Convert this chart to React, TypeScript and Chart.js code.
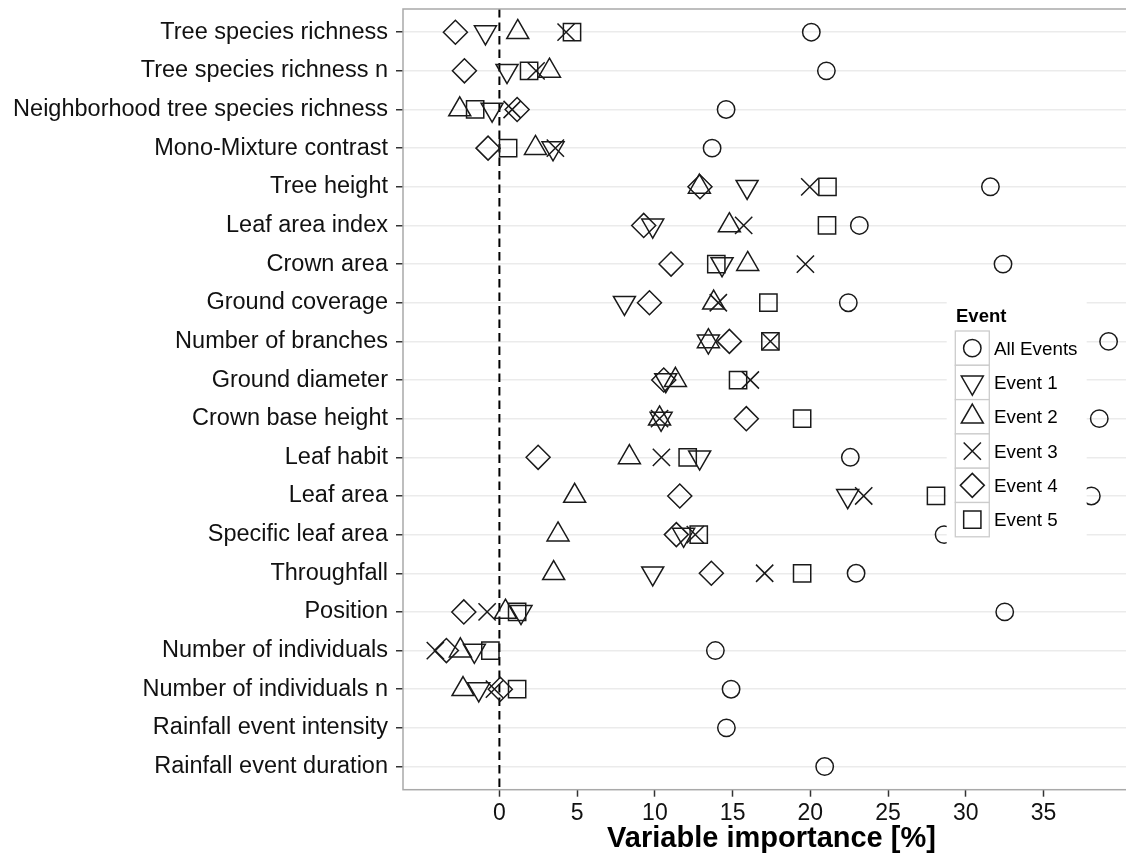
import React, { useEffect, useRef } from 'react';
import { Chart, registerables } from 'chart.js';
import { drawPoint } from 'chart.js/helpers';

Chart.register(...registerables);

// Predictor variables, listed top to bottom
const variables = [
  'Tree species richness',
  'Tree species richness n',
  'Neighborhood tree species richness',
  'Mono-Mixture contrast',
  'Tree height',
  'Leaf area index',
  'Crown area',
  'Ground coverage',
  'Number of branches',
  'Ground diameter',
  'Crown base height',
  'Leaf habit',
  'Leaf area',
  'Specific leaf area',
  'Throughfall',
  'Position',
  'Number of individuals',
  'Number of individuals n',
  'Rainfall event intensity',
  'Rainfall event duration',
];

// Variable importance [%] per event, same order as `variables`
const allEvents = [20.06, 21.03, 14.58, 13.68, 31.58, 23.15, 32.39, 22.44, 39.18, 33.0, 38.58, 22.57, 38.07, 28.6, 22.94, 32.5, 13.89, 14.9, 14.6, 20.92];
const event1 = [-0.9, 0.49, -0.47, 3.45, 15.93, 9.86, 14.32, 8.04, 13.44, 10.7, 10.4, 12.88, 22.4, 11.85, 9.86, 1.39, -1.61, -1.33, null, null];
const event2 = [1.18, 3.22, -2.55, 2.32, 12.86, 14.79, 15.97, 13.78, 13.44, 11.32, 10.3, 8.36, 4.84, 3.77, 3.49, 0.39, -2.51, -2.34, null, null];
const event3 = [4.29, 2.36, 0.82, 3.6, 19.96, 15.71, 19.68, 14.08, 17.43, 16.14, 10.3, 10.42, 23.43, 12.6, 17.06, -0.79, -4.12, -0.32, null, null];
const event4 = [-2.83, -2.25, 1.14, -0.73, 12.9, 9.28, 11.04, 9.65, 14.79, 10.57, 15.88, 2.49, 11.6, 11.38, 13.63, -2.29, -3.41, 0.06, null, null];
const event5 = [4.67, 1.91, -1.56, 0.56, 21.1, 21.07, 13.95, 17.3, 17.43, 15.35, 19.47, 12.11, 28.08, 12.82, 19.47, 1.14, -0.58, 1.14, null, null];

const xTicks = [0, 5, 10, 15, 20, 25, 30, 35];
const referenceValue = 0;

const FONT = '"Liberation Sans", Arial, Helvetica, sans-serif';
const INK = '#1a1a1a';

type Series = {
  label: string;
  values: (number | null)[];
  pointStyle: string;
  rotation: number;
  radius: number;
};

const series: Series[] = [
  { label: 'All Events', values: allEvents, pointStyle: 'circle', rotation: 0, radius: 8.7 },
  { label: 'Event 1', values: event1, pointStyle: 'triangle', rotation: 180, radius: 12.7 },
  { label: 'Event 2', values: event2, pointStyle: 'triangle', rotation: 0, radius: 12.7 },
  { label: 'Event 3', values: event3, pointStyle: 'crossRot', rotation: 0, radius: 12.2 },
  { label: 'Event 4', values: event4, pointStyle: 'rectRot', rotation: 0, radius: 12 },
  { label: 'Event 5', values: event5, pointStyle: 'rect', rotation: 0, radius: 12.2 },
];

// Panel border plus an inset legend in the ggplot style
const panelAndLegend = {
  id: 'panelAndLegend',
  afterDatasetsDraw(chart: any) {
    const { ctx, chartArea } = chart;
    ctx.save();
    ctx.strokeStyle = '#a9a9a9';
    ctx.lineWidth = 1.5;
    ctx.strokeRect(chartArea.left, chartArea.top, chartArea.right - chartArea.left, chartArea.bottom - chartArea.top);
    ctx.restore();
  },
  afterDraw(chart: any) {
    const { ctx } = chart;
    const boxLeft = 938.7;
    const boxTop = 289;
    const boxRight = 1078.7;
    const boxBottom = 538;
    const keyLeft = 947.3;
    const keyTop = 323;
    const keyW = 34;
    const keyH = 34.3;
    ctx.save();
    ctx.fillStyle = '#ffffff';
    ctx.fillRect(boxLeft, boxTop, boxRight - boxLeft, boxBottom - boxTop);

    ctx.fillStyle = '#000000';
    ctx.font = `bold 18.5px ${FONT}`;
    ctx.textAlign = 'left';
    ctx.textBaseline = 'alphabetic';
    ctx.fillText('Event', 948, 314.3);

    series.forEach((s, i) => {
      const top = keyTop + i * keyH;
      ctx.strokeStyle = '#cccccc';
      ctx.lineWidth = 1.3;
      ctx.fillStyle = '#ffffff';
      ctx.fillRect(keyLeft, top, keyW, keyH);
      ctx.strokeRect(keyLeft, top, keyW, keyH);

      const cx = keyLeft + keyW / 2;
      const cy = top + keyH / 2;
      ctx.strokeStyle = INK;
      ctx.fillStyle = 'rgba(0,0,0,0)';
      ctx.lineWidth = 1.5;
      drawPoint(ctx, { pointStyle: s.pointStyle, rotation: s.rotation, radius: s.radius, borderWidth: 1.5 } as any, cx, cy);

      ctx.fillStyle = '#000000';
      ctx.font = `18.8px ${FONT}`;
      ctx.fillText(s.label, 986, cy + 6.7);
    });
    ctx.restore();
  },
};

export default function App() {
  const canvasRef = useRef<HTMLCanvasElement | null>(null);

  useEffect(() => {
    const canvas = canvasRef.current;
    if (!canvas) return;

    const pointSets = series.map((s) => ({
      label: s.label,
      data: s.values
        .map((v, i) => (v === null ? null : { x: v, y: i }))
        .filter((p) => p !== null),
      pointStyle: s.pointStyle,
      pointRotation: s.rotation,
      pointRadius: s.radius,
      pointBorderWidth: 1.5,
      pointBorderColor: INK,
      pointBackgroundColor: 'rgba(0,0,0,0)',
      showLine: false,
      order: 1,
    }));

    const zeroLine = {
      label: 'zero',
      data: [
        { x: referenceValue, y: -0.6 },
        { x: referenceValue, y: variables.length - 0.4 },
      ],
      showLine: true,
      borderColor: '#000000',
      borderWidth: 2,
      borderDash: [8.5, 5],
      pointRadius: 0,
      order: 5,
    };

    const chart = new Chart(canvas, {
      type: 'scatter',
      data: { datasets: [zeroLine as any, ...(pointSets as any)] },
      options: {
        animation: false,
        responsive: false,
        devicePixelRatio: 1,
        events: [],
        layout: { autoPadding: false, padding: { left: 0, top: 1, right: 18, bottom: 0 } },
        plugins: {
          legend: { display: false },
          tooltip: { enabled: false },
        },
        scales: {
          x: {
            type: 'linear',
            min: -6.2,
            max: 41.2,
            afterBuildTicks: (scale: any) => {
              scale.ticks = xTicks.map((v) => ({ value: v }));
            },
            afterFit: (scale: any) => {
              scale.height = 66.3;
              scale.paddingLeft = 0;
              scale.paddingRight = 0;
            },
            ticks: {
              autoSkip: false,
              padding: 3,
              color: '#111111',
              font: { family: FONT, size: 23 },
              callback: (v: any) => String(v),
            },
            grid: {
              drawOnChartArea: false,
              drawTicks: true,
              tickLength: 7,
              tickColor: '#333333',
              tickWidth: 1.5,
            },
            border: { display: false },
            title: {
              display: true,
              text: 'Variable importance [%]',
              color: '#000000',
              font: { family: FONT, size: 29, weight: 'bold', lineHeight: 1.2 },
              padding: { top: 0, bottom: 0 },
            },
          },
          y: {
            type: 'linear',
            reverse: true,
            min: -0.6,
            max: variables.length - 0.4,
            afterBuildTicks: (scale: any) => {
              scale.ticks = variables.map((_, i) => ({ value: i }));
            },
            afterFit: (scale: any) => {
              scale.width = 395;
              scale.paddingTop = 0;
              scale.paddingBottom = 0;
            },
            ticks: {
              autoSkip: false,
              padding: 8,
              color: '#111111',
              font: { family: FONT, size: 23.5 },
              callback: (v: any) => variables[v as number] ?? '',
            },
            grid: {
              color: '#ebebeb',
              lineWidth: 1.5,
              drawTicks: true,
              tickLength: 7,
              tickColor: '#333333',
              tickWidth: 1.5,
            },
            border: { display: false },
          },
        },
      },
      plugins: [panelAndLegend],
    });

    return () => chart.destroy();
  }, []);

  return (
    <div style={{ width: 1126, height: 848, overflow: 'hidden', background: '#ffffff' }}>
      <canvas ref={canvasRef} width={1150} height={848} style={{ display: 'block', width: 1150, height: 848 }} />
    </div>
  );
}
